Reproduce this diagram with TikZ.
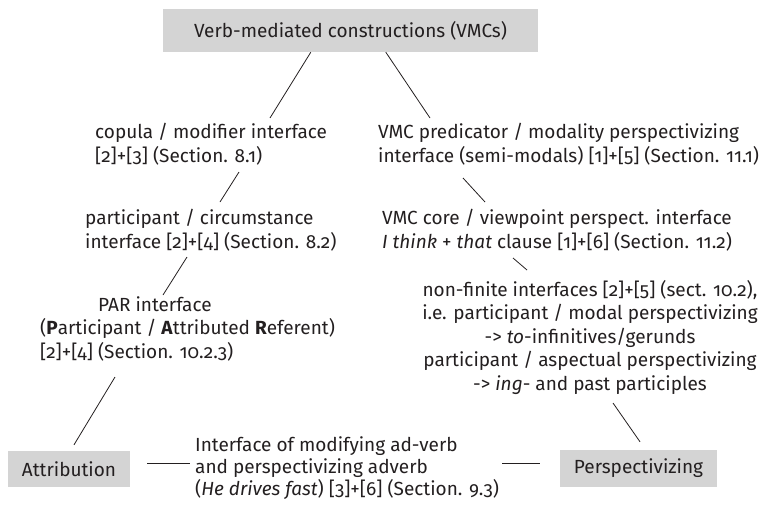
\documentclass[tikz,border=0pt]{standalone}
\usepackage{fontspec}
\setmainfont{Fira Sans}[Numbers=OldStyle]
\usetikzlibrary{calc}
\definecolor{boxgray}{RGB}{212,212,212}
\definecolor{ink}{RGB}{35,31,32}
\begin{document}
\begin{tikzpicture}[x=1pt,y=-1pt,
  every node/.style={text=ink,font=\fontsize{19}{23.5}\selectfont},
  label/.style={inner sep=0pt,align=left},
  centerlabel/.style={inner sep=0pt,align=center},
  graybox/.style={fill=boxgray,inner sep=0pt},
  link/.style={draw=ink,line width=0.8pt}]
\useasboundingbox (0,0) rectangle (763,506);

% heading box
\node[graybox,minimum width=375pt,minimum height=43pt] (title) at (350.5,30.5)
  {Verb-mediated constructions (VMCs)};

% left branch (nodes are placed by the baseline of their last line)
\node[label,anchor=base west] (copula) at (95,162)
  {copula / modifier interface\\{}[2]+[3] (Section. 8.1)};
\node[label,anchor=base west] (partic) at (85,248)
  {participant / circumstance\\interface [2]+[4] (Section. 8.2)};
\node[label,anchor=base west] (par) at (40,358)
  {\hspace*{58pt}PAR interface\\(\textbf{P}articipant / \textbf{A}ttributed \textbf{R}eferent)\\{}[2]+[4] (Section. 10.2.3)};

% right branch
\node[label,anchor=base west] (pred) at (378,162)
  {VMC predicator / modality perspectivizing\\interface (semi-modals) [1]+[5] (Section. 11.1)};
\node[label,anchor=base west] (core) at (382,248)
  {VMC core / viewpoint perspect. interface\\\textit{I think} + \textit{that} clause [1]+[6] (Section. 11.2)};
\node[centerlabel,anchor=base] (nonfin) at (590,390)
  {non-finite interfaces [2]+[5] (sect. 10.2),\\i.e. participant / modal perspectivizing\\-> \textit{to}-infinitives/gerunds\\participant / aspectual perspectivizing\\-> \textit{ing}- and past participles};

% bottom row
\node[graybox,minimum width=122pt,minimum height=36pt] (attr) at (69,469)
  {Attribution};
\node[graybox,minimum width=157pt,minimum height=37pt] (persp) at (638.5,468.5)
  {Perspectivizing};
\node[label,anchor=base west,font=\fontsize{19}{22}\selectfont] (adv) at (195,495)
  {Interface of modifying ad-verb\\and perspectivizing adverb\\(\textit{He drives fast}) [3]+[6] (Section. 9.3)};

% connectors
\draw[link] ($(title.south west)+(148,0)$) -- ($(copula.base west)+(175,-44)$);
\draw[link] ($(title.south west)+(223,0)$) -- ($(pred.base west)+(52,-44)$);
\draw[link] ($(copula.base west)+(144,10)$) -- ($(partic.base west)+(135,-46)$);
\draw[link] ($(partic.base west)+(102,9)$) -- ($(par.base west)+(123,-63)$);
\draw[link] ($(par.base west)+(75,19)$) -- ($(attr.north)+(5,-6)$);
\draw[link] ($(pred.base west)+(85,16)$) -- ($(core.base west)+(103,-46)$);
\draw[link] ($(core.base west)+(131,10)$) -- ($(nonfin.base)+(-63,-120)$);
\draw[link] ($(nonfin.base)+(23,13)$) -- ($(persp.north)+(1.5,-8)$);
\draw[link] ($(attr.east)+(17,-6)$) -- ($(adv.base west)+(-5,-32)$);
\draw[link] ($(adv.base west)+(307,-32)$) -- ($(persp.west)+(-20,-5.5)$);
\end{tikzpicture}
\end{document}
